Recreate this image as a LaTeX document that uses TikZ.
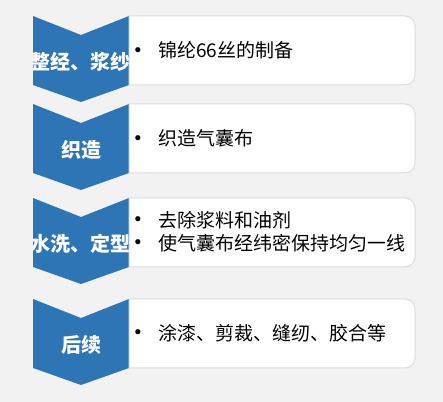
\documentclass[tikz,border=0pt]{standalone}
\usepackage{fontspec}
\setmainfont{Noto Sans CJK SC}
\usepackage{tikz}

\definecolor{stepblue}{HTML}{2E75B6}
\definecolor{pagegray}{HTML}{F2F2F2}
\definecolor{edgegray}{HTML}{DCDCDC}

\begin{document}
\begin{tikzpicture}[x=0.75pt,y=0.75pt,yscale=-1,xscale=1,
    chevronlabel/.style={text=white,inner sep=0.75pt,font=\fontsize{15}{18}\selectfont\bfseries},
    bodytext/.style={anchor=west,inner sep=0.75pt,font=\fontsize{14.25}{17}\selectfont},
    bulletmark/.style={inner sep=0.75pt,font=\fontsize{10}{12}\selectfont}]
    %set diagram frame: 443 x 402
    \fill[pagegray] (0,0) rectangle (443,402);
    \useasboundingbox (0,0) rectangle (443,402);

    \foreach \top/\name/\label in {16/zj/整经、浆纱, 104/zz/织造, 198/sx/水洗、定型, 299/hx/后续}{
        %Chevron
        \begin{scope}
            \path[fill=stepblue] (33,\top) -- (81,\top+19) -- (129,\top) -- (129,\top+69) -- (81,\top+86) -- (33,\top+69) -- cycle;
            \clip (33,\top) -- (81,\top+19) -- (129,\top) -- (129,\top+69) -- (81,\top+86) -- (33,\top+69) -- cycle;
            % Text Node
            \node[chevronlabel] (\name) at (81,\top+46) {\label};
        \end{scope}
        %Rounded box
        \draw[edgegray,fill=white,line width=0.75pt] (129,\top) -- (405,\top) arc (-90:0:10) -- (415,\top+59) arc (0:90:10) -- (129,\top+69) -- cycle;
    }

    % Text Node
    \node[bulletmark] (b1) at (138,50.5) {$\bullet$};
    \node[bodytext] (t1) at (157,50.5) {锦纶66丝的制备};
    % Text Node
    \node[bulletmark] (b2) at (138,138.5) {$\bullet$};
    \node[bodytext] (t2) at (157,138.5) {织造气囊布};
    % Text Node
    \node[bulletmark] (b3) at (138,220) {$\bullet$};
    \node[bodytext] (t3) at (157,220) {去除浆料和油剂};
    % Text Node
    \node[bulletmark] (b4) at (138,243) {$\bullet$};
    \node[bodytext] (t4) at (157,243) {使气囊布经纬密保持均匀一线};
    % Text Node
    \node[bulletmark] (b5) at (138,333) {$\bullet$};
    \node[bodytext] (t5) at (157,333) {涂漆、剪裁、缝纫、胶合等};

\end{tikzpicture}
\end{document}
